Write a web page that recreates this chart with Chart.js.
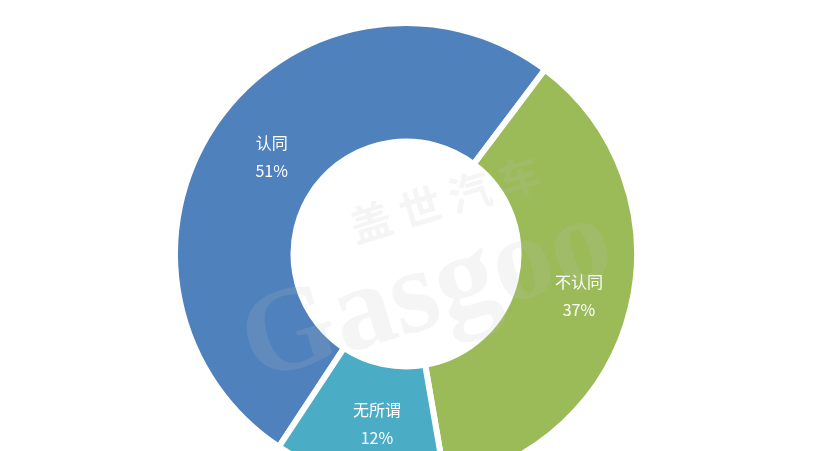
<!DOCTYPE html>
<html>
<head>
<meta charset="utf-8">
<script src="https://cdn.jsdelivr.net/npm/chart.js@4"></script>
<style>
  html, body { margin: 0; padding: 0; background: #fff; overflow: hidden; width: 820px; height: 451px; }
  #wrap { position: absolute; left: 172px; top: 20px; width: 468px; height: 468px; }
</style>
</head>
<body>
<div id="wrap"><canvas id="grafico"></canvas></div>
<script>
// dados do gráfico
const categorias = ['认同', '不认同', '无所谓'];
const percentuais = [51, 37, 12];
const cores = ['#4f81bd', '#9bbb59', '#4bacc6'];

// rótulos brancos dentro das fatias
const pluginRotulos = {
    id: 'rotulos',
    afterDatasetsDraw(chart) {
        const ctx = chart.ctx;
        const meta = chart.getDatasetMeta(0);
        ctx.save();
        ctx.fillStyle = '#ffffff';
        ctx.font = '16px "Noto Sans CJK SC", "Noto Sans", sans-serif';
        ctx.textAlign = 'center';
        ctx.textBaseline = 'middle';
        meta.data.forEach((arco, i) => {
            const p = arco.getCenterPoint();
            ctx.fillText(categorias[i], p.x + 6, p.y - 12);
            ctx.fillText(percentuais[i] + '%', p.x + 6, p.y + 16);
        });
        ctx.restore();
    }
};

// marca d'água bem clarinha
const pluginMarca = {
    id: 'marca',
    afterDraw(chart) {
        const ctx = chart.ctx;
        ctx.save();
        ctx.translate(420 - 172, 272 - 20);
        ctx.rotate(-17 * Math.PI / 180);
        ctx.fillStyle = 'rgba(190,190,190,0.16)';
        ctx.textAlign = 'center';
        ctx.textBaseline = 'middle';
        ctx.font = 'bold 120px "Liberation Serif", serif';
        ctx.fillText('Gasgoo', 0, 25);
        ctx.font = 'bold 42px "Noto Sans CJK SC", sans-serif';
        ctx.fillText('盖 世 汽 车', 45, -62);
        ctx.restore();
    }
};

new Chart(document.getElementById('grafico').getContext('2d'), {
    type: 'doughnut',
    data: {
        labels: categorias,
        datasets: [{
            data: percentuais,
            backgroundColor: cores,
            borderColor: '#ffffff',
            borderWidth: 6,
            hoverOffset: 0
        }]
    },
    options: {
        responsive: true,
        maintainAspectRatio: false,
        animation: false,
        cutout: '48.7%',
        rotation: 213.4,
        layout: { padding: 0 },
        plugins: {
            legend: { display: false },
            tooltip: { enabled: false }
        }
    },
    plugins: [pluginRotulos, pluginMarca]
});
</script>
</body>
</html>
